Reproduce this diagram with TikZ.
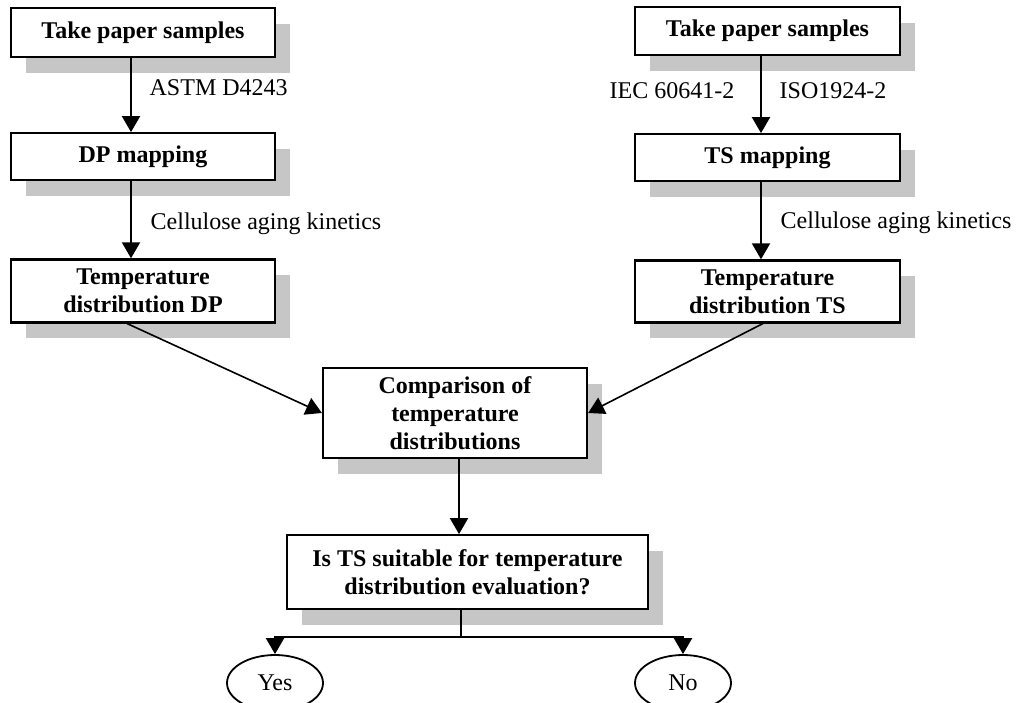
\documentclass[tikz,border=0pt]{standalone}
\usepackage{fontspec}
\setmainfont{Liberation Serif}
\usetikzlibrary{positioning,shapes.geometric,shadows,arrows.meta}

\tikzset{
  box/.style={draw, line width=1.1pt, fill=white, align=center, minimum width=132pt,
    font=\fontsize{12}{14}\selectfont\bfseries,
    drop shadow={shadow xshift=7.5pt, shadow yshift=-8pt, fill=gray!45, opacity=1}},
  answer/.style={draw, ellipse, line width=0.9pt, minimum width=48pt, minimum height=28pt,
    inner sep=0pt, font=\fontsize{12}{14}\selectfont},
  flow/.style={line width=1pt, -{Triangle[length=8pt,width=9pt]}},
  link/.style={line width=1pt},
  lbl/.style={font=\fontsize{12}{14}\selectfont}
}

\begin{document}
\begin{tikzpicture}[x=1pt,y=1pt]
  \useasboundingbox (0,0) rectangle (508.5,-351);

  \node [box, minimum height=24.5pt] (tp1) at (71.5,-16.25) {Take paper samples};
  \node [box, minimum height=23.5pt, below=37pt of tp1] (dp) {DP mapping};
  \node [box, minimum height=31.5pt, below=38.5pt of dp] (tdp) {Temperature\\distribution DP};

  \node [box, minimum height=24pt, minimum width=132.5pt] (tp2) at (383.75,-15.5) {Take paper samples};
  \node [box, minimum height=23.5pt, minimum width=132.5pt, below=38.5pt of tp2] (ts) {TS mapping};
  \node [box, minimum height=31pt, minimum width=132.5pt, below=38.5pt of ts] (tts) {Temperature\\distribution TS};

  \node [box, minimum height=45pt] (cmp) at (227.5,-206.5) {Comparison of\\temperature\\distributions};
  \node [box, minimum height=37pt, minimum width=180.5pt, below=37.5pt of cmp, xshift=6.25pt] (q)
    {Is TS suitable for temperature\\distribution evaluation?};

  \node [answer] (yes) at (137.5,-341.5) {Yes};
  \node [answer] (no) at (341.5,-341.5) {No};
  \coordinate [below=13.5pt of q.south, xshift=-3.25pt] (split);

  \draw [flow] ([xshift=-6pt]tp1.south) -- node [lbl, right=5.5pt, pos=0.4] {ASTM D4243} ([xshift=-6pt]dp.north);
  \draw [flow] ([xshift=-6pt]dp.south) -- node [lbl, right=6pt, pos=0.55] {Cellulose aging kinetics} ([xshift=-6pt]tdp.north);
  \draw [flow] ([xshift=-3.25pt]tp2.south) -- node [lbl, left=9.5pt, pos=0.45] {IEC 60641-2}
    node [lbl, right=5.5pt, pos=0.45] {ISO1924-2} ([xshift=-3.25pt]ts.north);
  \draw [flow] ([xshift=-3.25pt]ts.south) -- node [lbl, right=6pt, pos=0.52] {Cellulose aging kinetics} ([xshift=-3.25pt]tts.north);

  \draw [flow, line width=0.8pt] ([xshift=-8pt]tdp.south) -- (cmp.west);
  \draw [flow, line width=0.8pt] ([xshift=-2.25pt]tts.south) -- (cmp.east);
  \draw [flow] ([xshift=2pt]cmp.south) -- ([xshift=2pt]cmp.south |- q.north);

  \draw [link] ([xshift=-3.25pt]q.south) -- (split);
  \draw [flow] (split) -| (yes.north);
  \draw [flow] (split) -| (no.north);
\end{tikzpicture}
\end{document}
